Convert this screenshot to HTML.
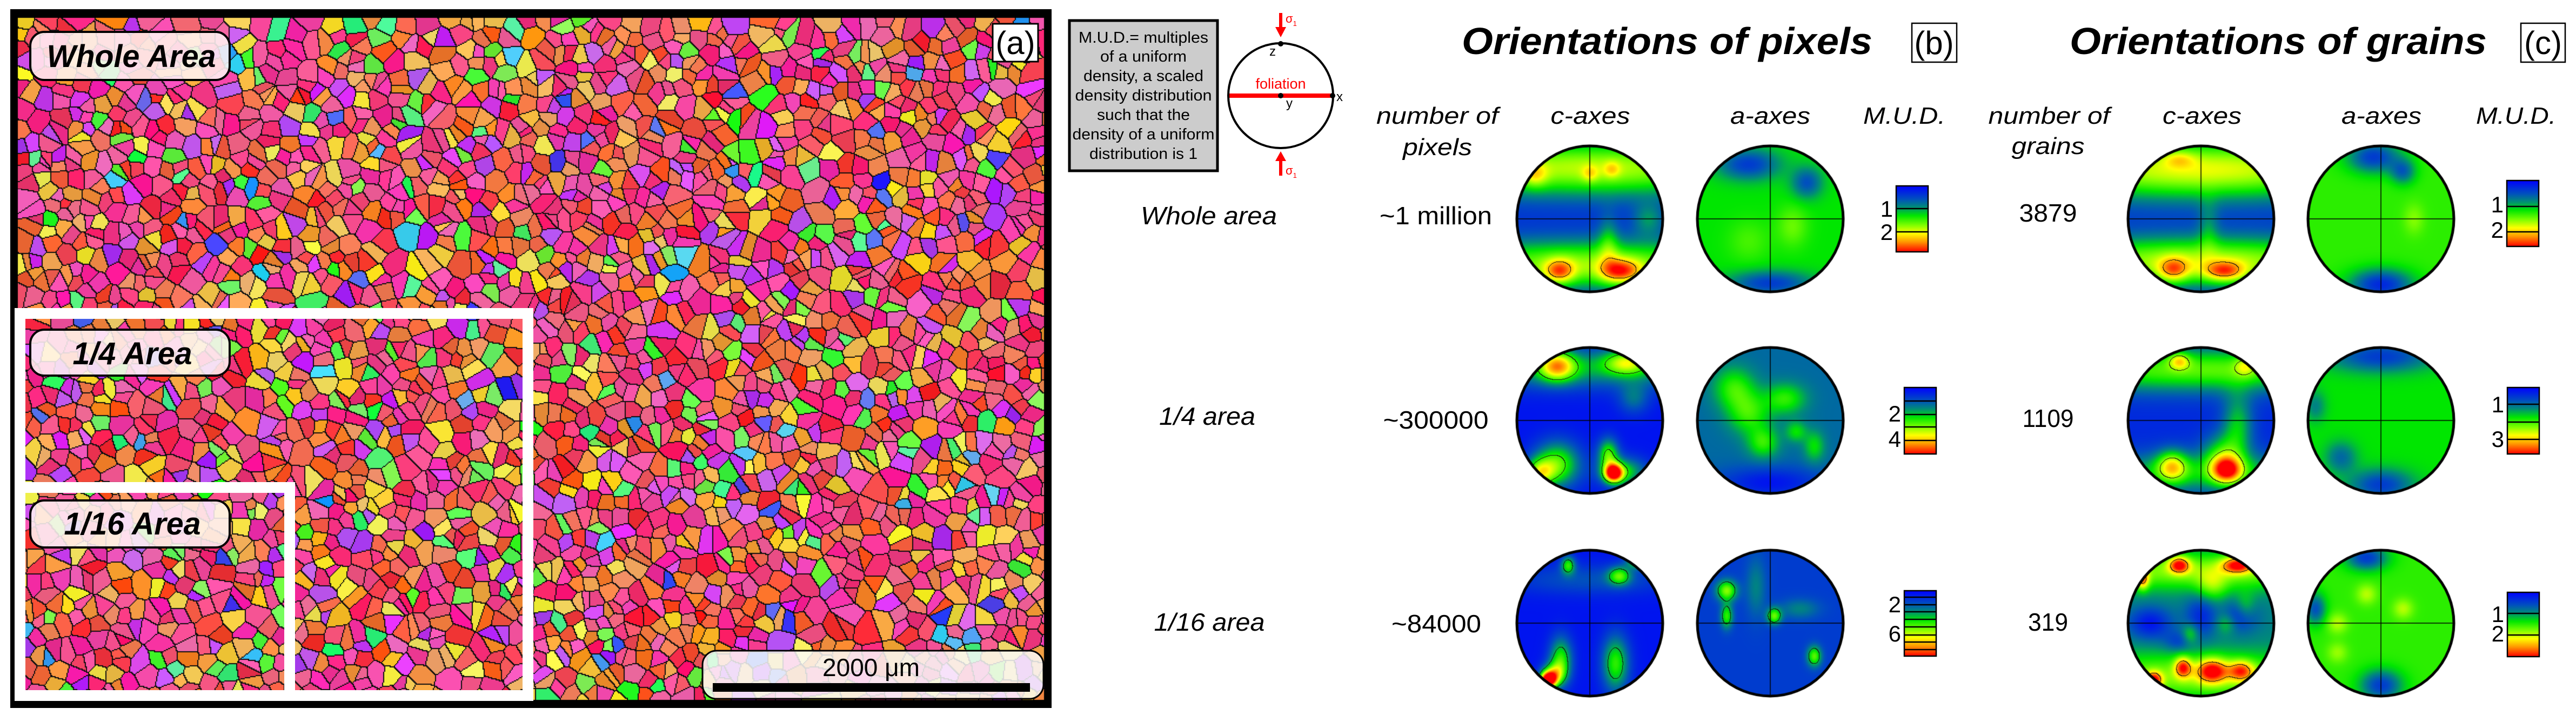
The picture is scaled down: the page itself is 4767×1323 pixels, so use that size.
<!DOCTYPE html>
<html><head><meta charset="utf-8">
<style>
html,body{margin:0;padding:0;background:#fff;}
#root{position:relative;width:4767px;height:1323px;overflow:hidden;background:#fff;font-family:"Liberation Sans Narrow","Liberation Sans",sans-serif;}
canvas{position:absolute;}
svg{position:absolute;left:0;top:0;}
</style></head>
<body>
<div id="root">
<canvas id="ebsd" style="left:19px;top:17px" width="1927" height="1293"></canvas>
<div id="poles"></div>
<svg width="4767" height="1323" viewBox="0 0 4767 1323" font-family="'Liberation Sans Narrow','Liberation Sans',sans-serif">
  <rect x="37" y="580" width="940" height="707" fill="none" stroke="#fff" stroke-width="20"/>
  <rect x="37" y="902" width="499" height="385" fill="none" stroke="#fff" stroke-width="20"/>
  <g>
    <rect x="56" y="59" width="369" height="89" rx="26" fill="rgba(255,244,244,0.88)" stroke="#000" stroke-width="4"/>
    <text x="243" y="124" text-anchor="middle" font-size="58" font-weight="bold" font-style="italic" textLength="313" lengthAdjust="spacingAndGlyphs">Whole Area</text>
  </g>
  <g>
    <rect x="56" y="610" width="369" height="85" rx="26" fill="rgba(255,244,244,0.88)" stroke="#000" stroke-width="4"/>
    <text x="245" y="674" text-anchor="middle" font-size="58" font-weight="bold" font-style="italic" textLength="221" lengthAdjust="spacingAndGlyphs">1/4 Area</text>
  </g>
  <g>
    <rect x="56" y="926" width="369" height="87" rx="26" fill="rgba(255,244,244,0.88)" stroke="#000" stroke-width="4"/>
    <text x="245" y="989" text-anchor="middle" font-size="58" font-weight="bold" font-style="italic" textLength="253" lengthAdjust="spacingAndGlyphs">1/16 Area</text>
  </g>
  <g>
    <rect x="1300" y="1204" width="631" height="89" rx="26" fill="rgba(250,250,250,0.85)" stroke="#000" stroke-width="3"/>
    <text x="1612" y="1251" text-anchor="middle" font-size="46">2000 μm</text>
    <rect x="1319" y="1264" width="587" height="16" fill="#000"/>
  </g>
  <g>
    <rect x="1837" y="44" width="84" height="70" fill="#fff" stroke="#000" stroke-width="3"/>
    <text x="1879" y="100" text-anchor="middle" font-size="60">(a)</text>
  </g>

  <g>
    <rect x="1979" y="38" width="274" height="278" fill="#cccccc" stroke="#000" stroke-width="5"/>
    <g font-size="29" text-anchor="middle">
      <text x="2116" y="79" textLength="240" lengthAdjust="spacingAndGlyphs">M.U.D.= multiples</text>
      <text x="2116" y="114" textLength="160" lengthAdjust="spacingAndGlyphs">of a uniform</text>
      <text x="2116" y="150" textLength="222" lengthAdjust="spacingAndGlyphs">density, a scaled</text>
      <text x="2116" y="186" textLength="253" lengthAdjust="spacingAndGlyphs">density distribution</text>
      <text x="2116" y="222" textLength="172" lengthAdjust="spacingAndGlyphs">such that the</text>
      <text x="2116" y="258" textLength="263" lengthAdjust="spacingAndGlyphs">density of a uniform</text>
      <text x="2116" y="294" textLength="200" lengthAdjust="spacingAndGlyphs">distribution is 1</text>
    </g>
  </g>

  <g>
    <line x1="2273" y1="177" x2="2467" y2="177" stroke="#ff0000" stroke-width="8"/>
    <circle cx="2370" cy="177" r="97" fill="none" stroke="#000" stroke-width="4"/>
    <circle cx="2370" cy="81" r="5" fill="#000"/>
    <circle cx="2370" cy="177" r="5" fill="#000"/>
    <circle cx="2466" cy="177" r="5" fill="#000"/>
    <text x="2370" y="164" text-anchor="middle" font-size="27" fill="#ff0000" font-family="'Liberation Sans',sans-serif">foliation</text>
    <text x="2355" y="103" text-anchor="middle" font-size="24" font-family="'Liberation Sans',sans-serif">z</text>
    <text x="2386" y="199" text-anchor="middle" font-size="24" font-family="'Liberation Sans',sans-serif">y</text>
    <text x="2479" y="187" text-anchor="middle" font-size="24" font-family="'Liberation Sans',sans-serif">x</text>
    <g>
      <rect x="2367" y="24" width="6" height="28" fill="#ff0000"/>
      <polygon points="2360,50 2380,50 2370,69" fill="#ff0000"/>
      <text x="2379" y="42" font-size="22" fill="#ff0000" font-family="'Liberation Sans',sans-serif">σ<tspan font-size="13" dy="6">1</tspan></text>
    </g>
    <g>
      <rect x="2367" y="296" width="6" height="29" fill="#ff0000"/>
      <polygon points="2360,298 2380,298 2370,280" fill="#ff0000"/>
      <text x="2379" y="323" font-size="22" fill="#ff0000" font-family="'Liberation Sans',sans-serif">σ<tspan font-size="13" dy="6">1</tspan></text>
    </g>
  </g>

  <text x="2705" y="100" font-size="70" font-weight="bold" font-style="italic" textLength="760" lengthAdjust="spacingAndGlyphs">Orientations of pixels</text>
  <g>
    <rect x="3538" y="43" width="83" height="72" fill="#fff" stroke="#000" stroke-width="2.5"/>
    <text x="3579" y="100" text-anchor="middle" font-size="60">(b)</text>
  </g>
  <text x="3830" y="100" font-size="70" font-weight="bold" font-style="italic" textLength="772" lengthAdjust="spacingAndGlyphs">Orientations of grains</text>
  <g>
    <rect x="4665" y="43" width="82" height="72" fill="#fff" stroke="#000" stroke-width="2.5"/>
    <text x="4706" y="100" text-anchor="middle" font-size="60">(c)</text>
  </g>

  <g font-size="44" font-style="italic" text-anchor="middle">
    <text x="2660" y="229" textLength="226" lengthAdjust="spacingAndGlyphs">number of</text>
    <text x="2660" y="287" textLength="128" lengthAdjust="spacingAndGlyphs">pixels</text>
    <text x="2943" y="229" textLength="147" lengthAdjust="spacingAndGlyphs">c-axes</text>
    <text x="3276" y="229" textLength="148" lengthAdjust="spacingAndGlyphs">a-axes</text>
    <text x="3524" y="229" textLength="152" lengthAdjust="spacingAndGlyphs">M.U.D.</text>
    <text x="3792" y="229" textLength="225" lengthAdjust="spacingAndGlyphs">number of</text>
    <text x="3790" y="285" textLength="135" lengthAdjust="spacingAndGlyphs">grains</text>
    <text x="4075" y="229" textLength="146" lengthAdjust="spacingAndGlyphs">c-axes</text>
    <text x="4407" y="229" textLength="148" lengthAdjust="spacingAndGlyphs">a-axes</text>
    <text x="4656" y="229" textLength="148" lengthAdjust="spacingAndGlyphs">M.U.D.</text>
  </g>

  <g font-size="46" text-anchor="middle">
    <text x="2237" y="415" font-style="italic" textLength="252" lengthAdjust="spacingAndGlyphs">Whole area</text>
    <text x="2657" y="415" textLength="208" lengthAdjust="spacingAndGlyphs">~1 million</text>
    <text x="3790" y="410" textLength="107" lengthAdjust="spacingAndGlyphs">3879</text>
    <text x="2234" y="786" font-style="italic" textLength="178" lengthAdjust="spacingAndGlyphs">1/4 area</text>
    <text x="2657" y="793" textLength="195" lengthAdjust="spacingAndGlyphs">~300000</text>
    <text x="3790" y="790" textLength="95" lengthAdjust="spacingAndGlyphs">1109</text>
    <text x="2238" y="1167" font-style="italic" textLength="205" lengthAdjust="spacingAndGlyphs">1/16 area</text>
    <text x="2658" y="1170" textLength="166" lengthAdjust="spacingAndGlyphs">~84000</text>
    <text x="3790" y="1167" textLength="74" lengthAdjust="spacingAndGlyphs">319</text>
  </g>
  <defs>
    <linearGradient id="jet" x1="0" y1="0" x2="0" y2="1">
      <stop offset="0" stop-color="#0000ff"/>
      <stop offset="0.2" stop-color="#0050be"/>
      <stop offset="0.32" stop-color="#008c78"/>
      <stop offset="0.45" stop-color="#00e600"/>
      <stop offset="0.6" stop-color="#82ff00"/>
      <stop offset="0.72" stop-color="#ffff00"/>
      <stop offset="0.85" stop-color="#ff9600"/>
      <stop offset="1" stop-color="#ff0000"/>
    </linearGradient>
  </defs>
  <g id="colorbars"></g>
</svg>
</div>
<script>
// ---------- EBSD map (decorative mosaic) ----------
(function(){
  const cv=document.getElementById('ebsd');
  const ctx=cv.getContext('2d');
  ctx.fillStyle='#000';ctx.fillRect(0,0,cv.width,cv.height);
  let s=12345;
  function rnd(){s|=0;s=s+0x6D2B79F5|0;let t=Math.imul(s^s>>>15,1|s);t=t+Math.imul(t^t>>>7,61|t)^t;return((t^t>>>14)>>>0)/4294967296;}
  const W=950,H=632,cell=12;
  const gx=Math.ceil(W/cell),gy=Math.ceil(H/cell);
  const seeds=new Array(gx*gy);
  const hues=[[330,0.28],[345,0.12],[5,0.12],[25,0.2],[50,0.1],[285,0.09],[110,0.05],[140,0.02],[200,0.01],[235,0.01]];
  function hsl(h,s,l){h=((h%360)+360)%360;const k=n=>(n+h/30)%12,a=s*Math.min(l,1-l);const f=n=>l-a*Math.max(-1,Math.min(k(n)-3,9-k(n),1));return[255*f(0),255*f(8),255*f(4)].map(Math.round);}
  function pickColor(){
    let r=rnd(),h=330;for(const [hh,w] of hues){if(r<w){h=hh;break;}r-=w;}
    h+=(rnd()-0.5)*22;
    return hsl(h,(75+rnd()*25)/100,(52+rnd()*16)/100);
  }
  for(let j=0;j<gy;j++)for(let i=0;i<gx;i++){
    if(rnd()<0.28){seeds[j*gx+i]=null;continue;}
    seeds[j*gx+i]={x:(i+rnd())*cell,y:(j+rnd())*cell,c:pickColor(),id:j*gx+i};
  }
  const img=ctx.createImageData(W,H);const ids=new Int32Array(W*H);
  for(let y=0;y<H;y++){const cj=Math.floor(y/cell);for(let x=0;x<W;x++){const ci=Math.floor(x/cell);let best=1e9,bs=null;
    for(let dj=-2;dj<=2;dj++){const jj=cj+dj;if(jj<0||jj>=gy)continue;for(let di=-2;di<=2;di++){const ii=ci+di;if(ii<0||ii>=gx)continue;const sd=seeds[jj*gx+ii];if(!sd)continue;const dx=sd.x-x,dy=sd.y-y,d=dx*dx+dy*dy;if(d<best){best=d;bs=sd;}}}
    const k=y*W+x;ids[k]=bs?bs.id:-1;const p=k*4;const c=bs?bs.c:[0,0,0];img.data[p]=c[0];img.data[p+1]=c[1];img.data[p+2]=c[2];img.data[p+3]=255;}}
  for(let y=0;y<H;y++)for(let x=0;x<W;x++){const k=y*W+x;if((x<W-1&&ids[k]!==ids[k+1])||(y<H-1&&ids[k]!==ids[k+W])){const p=k*4;img.data[p]=img.data[p+1]=img.data[p+2]=15;}}
  const off=document.createElement('canvas');off.width=W;off.height=H;off.getContext('2d').putImageData(img,0,0);
  ctx.imageSmoothingEnabled=false;
  ctx.drawImage(off,0,0,W,H,14,16,1899,1262);
})();

// ---------- Pole figure data: density peaks [x, y, amplitude, sigmaX, sigmaY] ----------
const pixelsWholeC=[[0,-0.7,0.55,2,0.28],[0,0.62,0.5,2,0.25],[-0.42,0.72,0.4,0.15,0.12],[0.42,0.72,0.45,0.2,0.12],[-0.75,-0.6,0.2,0.12,0.12],[0,-0.62,0.15,0.08,0.08],[0.3,-0.68,0.15,0.08,0.08],[0.25,0.3,0.2,0.1,0.25],[0.8,0,0.2,0.15,0.15]];
const pixelsWholeA=[[-0.3,-0.75,-0.3,0.3,0.15],[0.5,-0.5,-0.25,0.15,0.15],[0,0.88,-0.3,0.4,0.12],[0.3,0.1,0.12,0.15,0.2],[-0.3,0.3,0.08,0.2,0.2]];
const grainsWholeC=[[0,-0.68,0.6,2,0.3],[0,0.58,0.55,2,0.25],[-0.38,0.7,0.35,0.15,0.12],[0.32,0.72,0.4,0.2,0.1],[-0.3,-0.82,0.15,0.15,0.08],[0.1,0.1,0.15,0.1,0.25]];
const grainsWholeA=[[-0.1,-0.85,-0.35,0.25,0.15],[0.3,-0.65,-0.25,0.12,0.12],[0,0.9,-0.4,0.3,0.15],[0.45,0.0,0.1,0.1,0.15]];
const pixelsQuarterC=[[-0.45,-0.75,0.55,0.18,0.15],[0.5,-0.8,0.4,0.22,0.12],[0,-0.72,0.3,2,0.2],[-0.45,0.6,0.5,0.22,0.22],[-0.7,0.72,0.45,0.14,0.14],[0.32,0.72,0.85,0.09,0.09],[0.25,0.45,0.45,0.1,0.15],[0.45,0.7,0.4,0.22,0.14],[0.6,-0.3,0.2,0.15,0.15]];
const pixelsQuarterA=[[-0.5,-0.45,0.25,0.2,0.2],[-0.3,-0.1,0.25,0.2,0.2],[0.2,-0.3,0.25,0.2,0.15],[-0.1,0.3,0.25,0.15,0.15],[0.35,0.15,0.2,0.1,0.1],[0.6,0.35,0.2,0.1,0.15],[0,0.85,-0.2,0.5,0.15]];
const grainsQuarterC=[[0,-0.7,0.45,2,0.22],[-0.3,-0.82,0.3,0.1,0.08],[0.6,-0.75,0.2,0.1,0.1],[0.5,0.05,0.3,0.15,0.3],[-0.4,0.62,0.45,0.15,0.15],[0.35,0.68,0.6,0.15,0.13],[0.3,0.45,0.3,0.2,0.2],[0,0.72,0.3,2,0.2]];
const grainsQuarterA=[[0,-0.88,-0.3,0.5,0.15],[0,0.88,-0.3,0.3,0.15],[-0.55,0.5,-0.2,0.15,0.15],[-0.9,-0.2,-0.15,0.1,0.15]];
const pixelsSixteenthC=[[-0.3,-0.8,0.4,0.07,0.09],[0.4,-0.65,0.4,0.11,0.09],[0.65,-0.85,0.4,0.11,0.07],[-0.4,0.5,0.45,0.11,0.22],[0.35,0.55,0.45,0.13,0.27],[-0.58,0.78,0.95,0.08,0.08],[-0.5,0.7,0.45,0.11,0.11],[0,-0.6,0.15,0.8,0.15]];
const pixelsSixteenthA=[[-0.6,-0.45,0.45,0.1,0.1],[-0.6,-0.1,0.35,0.06,0.12],[0.05,-0.1,0.4,0.07,0.08],[0.6,0.45,0.4,0.07,0.1],[-0.2,-0.5,0.15,0.1,0.3],[0.4,-0.2,0.15,0.2,0.1]];
const grainsSixteenthC=[[-0.3,-0.8,0.5,0.1,0.08],[0.5,-0.8,0.5,0.15,0.08],[-0.8,-0.6,0.4,0.06,0.1],[0.15,-0.5,0.2,0.15,0.15],[0.6,-0.2,0.2,0.1,0.15],[-0.15,0.15,0.2,0.08,0.1],[0.35,0.0,0.15,0.1,0.1],[0,-0.72,0.3,2,0.18],[0.15,0.65,0.5,0.15,0.12],[0.55,0.65,0.4,0.12,0.1],[-0.25,0.6,0.45,0.08,0.1],[-0.65,0.78,0.5,0.08,0.08],[0,0.72,0.3,2,0.22],[-0.7,0,-0.25,0.2,0.15],[0,-0.1,-0.2,0.15,0.2],[0.55,-0.1,-0.25,0.15,0.15],[-0.3,0.25,-0.15,0.15,0.1]];
const grainsSixteenthA=[[-0.2,-0.9,-0.35,0.2,0.12],[0,0.85,-0.35,0.2,0.15],[-0.9,-0.2,-0.3,0.1,0.15],[-0.2,-0.4,0.15,0.1,0.1],[-0.6,0.0,0.15,0.1,0.1],[0.3,-0.2,0.15,0.1,0.1],[-0.6,0.4,0.12,0.1,0.1]];
const baseLevels=[0.1,0.45,0.1,0.5,0.05,0.25,0.1,0.45,0.05,0.15,0.3,0.5];
const contourLevels=[0.8,0,0.82,0,0.5,0,0.62,0,0.38,0.38,0.82,0.95];
const figureCentersX=[2942,3276,4073,4406];
const figureCentersY=[405,778,1153];

const stops=[[0,[0,0,255]],[0.2,[0,80,190]],[0.32,[0,140,120]],[0.45,[0,230,0]],[0.6,[130,255,0]],[0.72,[255,255,0]],[0.85,[255,150,0]],[1,[255,0,0]]];
function cmap(t){t=Math.max(0,Math.min(1,t));for(let i=1;i<stops.length;i++){if(t<=stops[i][0]){const a=stops[i-1],b=stops[i];const u=(t-a[0])/(b[0]-a[0]);return[0,1,2].map(k=>a[1][k]+(b[1][k]-a[1][k])*u);}}return stops[stops.length-1][1];}

const figs=[pixelsWholeC,pixelsWholeA,grainsWholeC,grainsWholeA,pixelsQuarterC,pixelsQuarterA,grainsQuarterC,grainsQuarterA,pixelsSixteenthC,pixelsSixteenthA,grainsSixteenthC,grainsSixteenthA];
const figNames=['pixels-whole-c-axes','pixels-whole-a-axes','grains-whole-c-axes','grains-whole-a-axes','pixels-quarter-c-axes','pixels-quarter-a-axes','grains-quarter-c-axes','grains-quarter-a-axes','pixels-sixteenth-c-axes','pixels-sixteenth-a-axes','grains-sixteenth-c-axes','grains-sixteenth-a-axes'];
const holder=document.getElementById('poles');
figs.forEach((blobs,idx)=>{
  const row=Math.floor(idx/4),col=idx%4;
  const S=284,R=135,C=S/2;
  const cv=document.createElement('canvas');
  
  
  cv.width=S;cv.height=S;
  cv.style.left=(figureCentersX[col]-C)+'px';cv.style.top=(figureCentersY[row]-C)+'px';
  holder.appendChild(cv);
  const ctx=cv.getContext('2d');const img=ctx.createImageData(S,S);
  const F=new Float32Array(S*S);
  for(let y=0;y<S;y++)for(let x=0;x<S;x++){const nx=(x-C)/R,ny=(y-C)/R;let f=baseLevels[idx];
    for(const b of blobs){const dx=nx-b[0],dy=ny-b[1];f+=b[2]*Math.exp(-(dx*dx/(2*b[3]*b[3])+dy*dy/(2*b[4]*b[4])));}
    F[y*S+x]=f;}
  const L=contourLevels[idx];
  for(let y=0;y<S;y++)for(let x=0;x<S;x++){const nx=(x-C)/R,ny=(y-C)/R;const k=y*S+x,p=k*4;if(nx*nx+ny*ny>1){img.data[p+3]=0;continue;}
    let c=cmap(F[k]);
    if(L>0&&x<S-1&&y<S-1){const a=F[k]>=L,b1=F[k+1]>=L,b2=F[k+S]>=L;if(a!==b1||a!==b2)c=[20,20,20];}
    img.data[p]=c[0];img.data[p+1]=c[1];img.data[p+2]=c[2];img.data[p+3]=255;}
  ctx.putImageData(img,0,0);
  ctx.strokeStyle='#000';ctx.lineWidth=1.5;
  ctx.beginPath();ctx.moveTo(C-R,C);ctx.lineTo(C+R,C);ctx.moveTo(C,C-R);ctx.lineTo(C,C+R);ctx.stroke();
  ctx.lineWidth=5;ctx.beginPath();ctx.arc(C,C,R,0,Math.PI*2);ctx.stroke();
});

// ---------- colour bars ----------
const barLeft=[3509,3524,3524,4639,4640,4640];
const barTop=[344,717,1093,334,717,1096];
const barBottom=[466,840,1214,456,840,1215];
const barDividers=[[386,429],[742,767,790,815],[1105,1119,1132,1146,1160,1175,1188,1202],[382,429],[748,781,813],[1135,1175]];
const barLabels=[['1','2'],['2','4'],['2','6'],['1','2'],['1','3'],['1','2']];
const barLabelY=[[386,429],[765,812],[1118,1172],[378,425],[748,812],[1136,1172]];
const NS='http://www.w3.org/2000/svg';
const cg=document.getElementById('colorbars');
barLeft.forEach((x,i)=>{
  const g=document.createElementNS(NS,'g');
  
  
  const r=document.createElementNS(NS,'rect');
  r.setAttribute('x',x);r.setAttribute('y',barTop[i]);r.setAttribute('width',59);r.setAttribute('height',barBottom[i]-barTop[i]);
  r.setAttribute('fill','url(#jet)');r.setAttribute('stroke','#000');r.setAttribute('stroke-width',2.5);
  g.appendChild(r);
  barDividers[i].forEach(d=>{const l=document.createElementNS(NS,'line');l.setAttribute('x1',x);l.setAttribute('x2',x+59);l.setAttribute('y1',d);l.setAttribute('y2',d);l.setAttribute('stroke','#000');l.setAttribute('stroke-width',2.5);g.appendChild(l);});
  barLabels[i].forEach((t,j)=>{const tx=document.createElementNS(NS,'text');
    
    
    tx.setAttribute('x',x-6);tx.setAttribute('y',barLabelY[i][j]+15);tx.setAttribute('text-anchor','end');tx.setAttribute('font-size','42');tx.textContent=t;g.appendChild(tx);});
  cg.appendChild(g);
});
</script>
</body></html>
